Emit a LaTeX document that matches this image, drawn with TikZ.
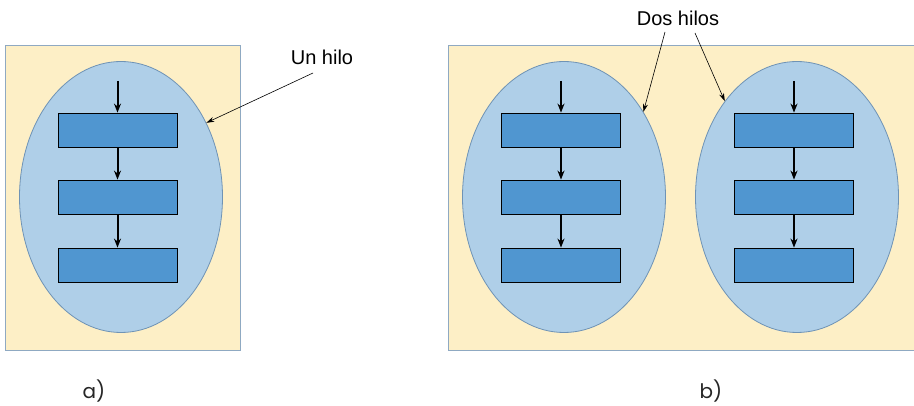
\documentclass[tikz,border=0pt]{standalone}
\usepackage{fontspec}
\setmainfont{Liberation Sans}
\newfontfamily\labelfont{Poppins}
\usetikzlibrary{arrows.meta,shapes.geometric}
\definecolor{procbg}{HTML}{FDEFC6}
\definecolor{procedge}{HTML}{8FA9C2}
\definecolor{threadbg}{HTML}{AFCFE8}
\definecolor{threadedge}{HTML}{6F93B5}
\definecolor{stepfill}{HTML}{5096D0}
\tikzset{
  process/.style={fill=procbg, draw=procedge, line width=0.9pt},
  thread/.style={ellipse, fill=threadbg, draw=threadedge, line width=0.8pt,
    minimum width=203pt, minimum height=271pt, inner sep=0pt},
  stepbox/.style={rectangle, fill=stepfill, draw=black, line width=0.8pt,
    minimum width=119pt, minimum height=34pt, inner sep=0pt},
  flow/.style={-{Stealth[length=9pt,width=7pt]}, line width=2pt},
  pointer/.style={-{Stealth[length=8pt,width=5pt]}, line width=0.6pt},
  caption/.style={font=\fontsize{20}{24}\selectfont},
  sublabel/.style={font=\labelfont\fontsize{20}{24}\selectfont\color{black!85}}
}
\begin{document}
\begin{tikzpicture}[x=1pt,y=-1pt]
\useasboundingbox (0,0) rectangle (914,406);

% process boxes
\path[process] (5,45) rectangle (240,350);
\path[fill=procbg] (448,45) rectangle (914,350);
\draw[procedge, line width=0.9pt] (914,45) -- (448,45) -- (448,350) -- (914,350);

% one thread, three steps
\node[thread] (ta) at (121,197) {};
\node[stepbox] (a1) at (117.5,130) {};
\node[stepbox] (a2) at (117.5,197) {};
\node[stepbox] (a3) at (117.5,265) {};
\coordinate (a0) at (117.5,81);
\draw[flow] (a0) -- (a1.north);
\draw[flow] (a1.south) -- (a2.north);
\draw[flow] (a2.south) -- (a3.north);

% two threads, three steps each
\node[thread] (tb) at (564,197) {};
\node[stepbox] (b1) at (561,130) {};
\node[stepbox] (b2) at (561,197) {};
\node[stepbox] (b3) at (561,265) {};
\coordinate (b0) at (561,81);
\draw[flow] (b0) -- (b1.north);
\draw[flow] (b1.south) -- (b2.north);
\draw[flow] (b2.south) -- (b3.north);

\node[thread] (tc) at (797,197) {};
\node[stepbox] (c1) at (794,130) {};
\node[stepbox] (c2) at (794,197) {};
\node[stepbox] (c3) at (794,265) {};
\coordinate (c0) at (794,81);
\draw[flow] (c0) -- (c1.north);
\draw[flow] (c1.south) -- (c2.north);
\draw[flow] (c2.south) -- (c3.north);

% callouts
\node[caption] (one) at (322,57) {Un hilo};
\draw[pointer] (313,73) -- (ta.41);
\node[caption] (two) at (678,18) {Dos hilos};
\draw[pointer] (665,32) -- (tb.47);
\draw[pointer] (695,33) -- (tc.127);

% sub-figure labels
\node[sublabel] (la) at (94,391) {a)};
\node[sublabel] (lb) at (711,391) {b)};
\end{tikzpicture}
\end{document}
